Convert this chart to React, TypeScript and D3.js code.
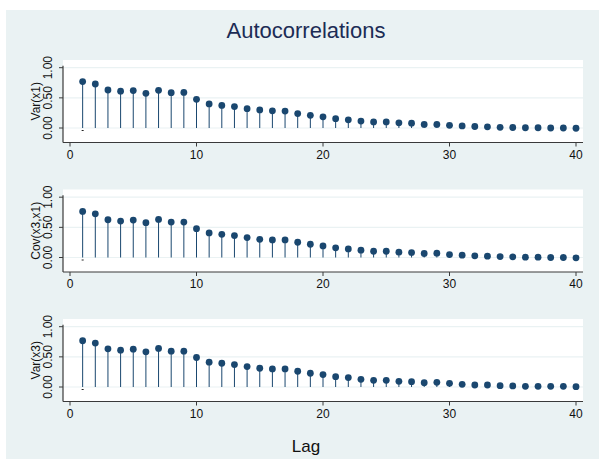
import React, { useEffect, useRef } from "react";
import * as d3 from "d3";

// autocorrelations by lag (lag = index + 1)
const varX1 = [0.77, 0.73, 0.63, 0.61, 0.62, 0.575, 0.625, 0.585, 0.59, 0.475,
  0.4, 0.375, 0.355, 0.32, 0.3, 0.285, 0.28, 0.24, 0.21, 0.185,
  0.155, 0.135, 0.115, 0.1, 0.1, 0.085, 0.08, 0.06, 0.06, 0.045,
  0.035, 0.025, 0.02, 0.012, 0.008, 0.004, 0.004, 0.0, 0.0, -0.004];
const covX3X1 = [0.764, 0.725, 0.626, 0.604, 0.62, 0.577, 0.632, 0.588, 0.588, 0.478,
  0.407, 0.385, 0.363, 0.33, 0.302, 0.291, 0.291, 0.253, 0.22, 0.192,
  0.16, 0.143, 0.121, 0.104, 0.104, 0.088, 0.082, 0.066, 0.071, 0.049,
  0.038, 0.027, 0.022, 0.016, 0.011, 0.005, 0.005, 0.0, 0.0, -0.005];
const varX3 = [0.767, 0.728, 0.633, 0.611, 0.628, 0.583, 0.639, 0.594, 0.594, 0.489,
  0.411, 0.394, 0.372, 0.339, 0.311, 0.3, 0.3, 0.261, 0.228, 0.206,
  0.172, 0.156, 0.128, 0.111, 0.111, 0.094, 0.089, 0.072, 0.078, 0.061,
  0.044, 0.033, 0.033, 0.022, 0.017, 0.011, 0.011, 0.011, 0.011, 0.006];

const panelTitles = ["Var(x1)", "Cov(x3,x1)", "Var(x3)"];
const panelSeries = [varX1, covX3X1, varX3];
const xTicks = [0, 10, 20, 30, 40];
const yTicks = [0, 0.5, 1];
const yTickLabels = ["0.00", "0.50", "1.00"];

const W = 599;
const H = 465;
const navy = "#1a476f";
const bg = "#eaf2f3";
const axisCol = "#3a3a3a";
const font = "'Liberation Sans', Arial, Helvetica, sans-serif";

const App = () => {
  const svgRef = useRef<SVGSVGElement>(null);

  useEffect(() => {
    const svg = d3.select(svgRef.current);
    svg.selectAll("*").remove();

    svg.append("rect").attr("x", 6).attr("y", 10).attr("width", W - 6).attr("height", 449).attr("fill", bg);

    svg.append("text")
      .attr("x", 306).attr("y", 38.3)
      .attr("text-anchor", "middle")
      .attr("font-family", font).attr("font-size", 22)
      .attr("fill", "#1c2c55")
      .text("Autocorrelations");

    svg.append("text")
      .attr("x", 306).attr("y", 452)
      .attr("text-anchor", "middle")
      .attr("font-family", font).attr("font-size", 17)
      .attr("fill", "#111")
      .text("Lag");

    const x = d3.scaleLinear().domain([0, 40]).range([70, 576]);
    const plotLeft = 63;
    const plotRight = 583;

    panelSeries.forEach((series, p) => {
      const off = p * 129.5;
      const y = d3.scaleLinear().domain([0, 1]).range([128 + off, 67.7 + off]);
      const top = 60 + off;
      const bottom = 142.5 + off;
      const g = svg.append("g");

      g.append("rect").attr("x", plotLeft).attr("y", top)
        .attr("width", plotRight - plotLeft).attr("height", bottom - top).attr("fill", "#fff");

      // gridlines
      g.selectAll("line.grid").data(yTicks).enter().append("line")
        .attr("x1", plotLeft).attr("x2", plotRight)
        .attr("y1", (d) => y(d)).attr("y2", (d) => y(d))
        .attr("stroke", bg).attr("stroke-width", 1.2);

      // spikes
      g.selectAll("line.spike").data(series).enter().append("line")
        .attr("x1", (d, i) => x(i + 1)).attr("x2", (d, i) => x(i + 1))
        .attr("y1", y(0)).attr("y2", (d) => y(d))
        .attr("stroke", navy).attr("stroke-width", 1);

      // small dash below lag 1
      g.append("line")
        .attr("x1", x(1) - 1).attr("x2", x(1) + 1)
        .attr("y1", y(0) + 2.5).attr("y2", y(0) + 2.5)
        .attr("stroke", "#222").attr("stroke-width", 1);

      g.selectAll("circle").data(series).enter().append("circle")
        .attr("cx", (d, i) => x(i + 1)).attr("cy", (d) => y(d))
        .attr("r", 3.4).attr("fill", navy);

      // axes
      g.append("line").attr("x1", plotLeft).attr("x2", plotLeft)
        .attr("y1", y(1) - 2).attr("y2", bottom)
        .attr("stroke", axisCol).attr("stroke-width", 1.2);
      g.append("line").attr("x1", plotLeft).attr("x2", plotRight)
        .attr("y1", bottom).attr("y2", bottom)
        .attr("stroke", axisCol).attr("stroke-width", 1.2);

      g.selectAll("line.yt").data(yTicks).enter().append("line")
        .attr("x1", plotLeft - 4).attr("x2", plotLeft)
        .attr("y1", (d) => y(d)).attr("y2", (d) => y(d))
        .attr("stroke", axisCol).attr("stroke-width", 1);

      g.selectAll("text.yl").data(yTicks).enter().append("text")
        .attr("transform", (d) => `translate(52.3,${y(d)}) rotate(-90)`)
        .attr("text-anchor", "middle")
        .attr("font-family", font).attr("font-size", 12)
        .attr("fill", "#111")
        .text((d, i) => yTickLabels[i]);

      g.append("text")
        .attr("transform", `translate(40,${(top + bottom) / 2}) rotate(-90)`)
        .attr("text-anchor", "middle")
        .attr("font-family", font).attr("font-size", 12)
        .attr("fill", "#111")
        .text(panelTitles[p]);

      g.selectAll("line.xt").data(xTicks).enter().append("line")
        .attr("x1", (d) => x(d)).attr("x2", (d) => x(d))
        .attr("y1", bottom).attr("y2", bottom + 4)
        .attr("stroke", axisCol).attr("stroke-width", 1);

      g.selectAll("text.xl").data(xTicks).enter().append("text")
        .attr("x", (d) => x(d)).attr("y", bottom + 16)
        .attr("text-anchor", "middle")
        .attr("font-family", font).attr("font-size", 12)
        .attr("fill", "#111")
        .text((d) => d);
    });
  }, []);

  return (
    <div style={{ position: "absolute", left: 0, top: 0 }}>
      <svg ref={svgRef} width={W} height={H} style={{ display: "block", background: "#fff" }}></svg>
    </div>
  );
};

export default App;
